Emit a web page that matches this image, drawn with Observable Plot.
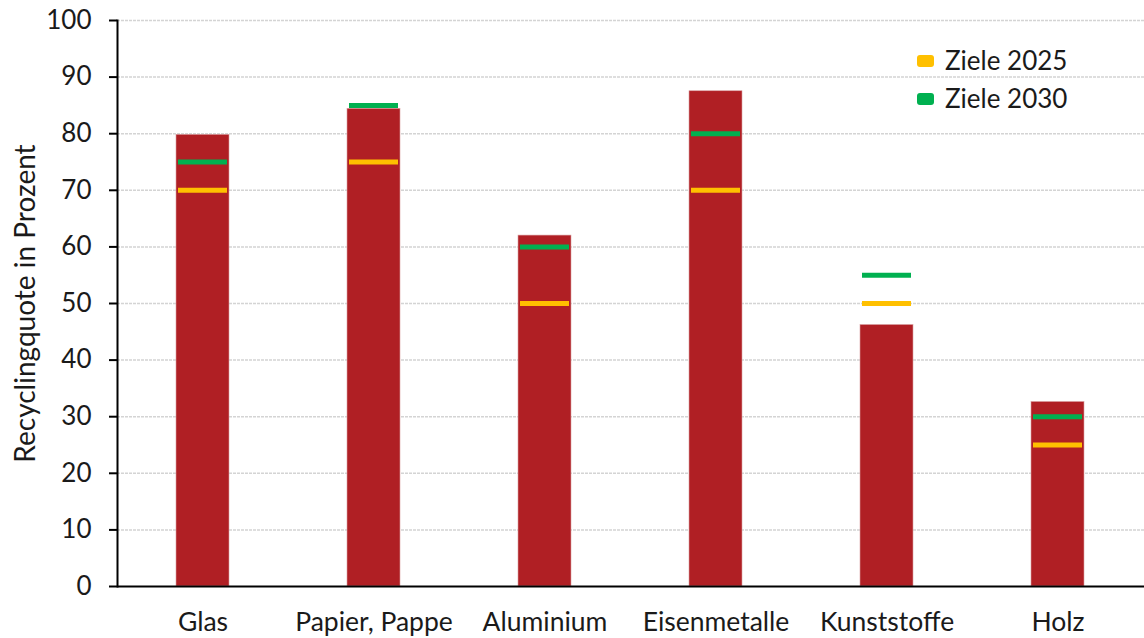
<!DOCTYPE html>
<html>
<head>
<meta charset="utf-8">
<script src="https://cdn.jsdelivr.net/npm/d3@7"></script>
<script src="https://cdn.jsdelivr.net/npm/@observablehq/plot@0.6"></script>
<style>
  html, body { margin: 0; padding: 0; background: #fff; }
  #wrap { position: relative; width: 1144px; height: 638px; font-family: Lato, "Noto Sans", sans-serif; }
  #legend { position: absolute; left: 917px; top: 41px; font-size: 26px; color: #1a1a1a; line-height: 38px; }
  #legend .sw { display: inline-block; width: 17px; height: 12px; border-radius: 3px; margin-right: 11px; vertical-align: 3px; }
</style>
</head>
<body>
<div id="wrap"><div id="chart"></div>
<div id="legend">
  <div><span class="sw" style="background:#FFC000"></span>Ziele 2025</div>
  <div><span class="sw" style="background:#00B050"></span>Ziele 2030</div>
</div>
</div>
<script>
const categories = ["Glas", "Papier, Pappe", "Aluminium", "Eisenmetalle", "Kunststoffe", "Holz"];
const quote = [79.8, 84.4, 62.0, 87.5, 46.2, 32.6];
const ziele2025 = [70, 75, 50, 70, 50, 25];
const ziele2030 = [75, 85, 60, 80, 55, 30];
const yTicks = [0, 10, 20, 30, 40, 50, 60, 70, 80, 90, 100];

const bars = categories.map((c, i) => ({cat: c, value: quote[i]}));
const t25 = categories.map((c, i) => ({cat: c, value: ziele2025[i]}));
const t30 = categories.map((c, i) => ({cat: c, value: ziele2030[i]}));

const chart = Plot.plot({
  width: 1144,
  height: 638,
  marginLeft: 117,
  marginRight: 0,
  marginTop: 20,
  marginBottom: 52,
  style: {fontFamily: "Lato, 'Noto Sans', sans-serif", color: "#1a1a1a", background: "#fff"},
  x: {domain: categories, paddingInner: 0.69, paddingOuter: 0.345, label: null},
  y: {domain: [0, 100], label: null},
  marks: [
    Plot.gridY(yTicks.slice(1), {stroke: "#d4d4d4", strokeOpacity: 1, strokeWidth: 1.5, strokeDasharray: "3,1"}),
    Plot.barY(bars, {x: "cat", y: "value", fill: "#B01F24", stroke: "#d9a0a2", strokeWidth: 0.6}),
    Plot.tickY(t25, {x: "cat", y: "value", stroke: "#FFC000", strokeWidth: 5, inset: 2}),
    Plot.tickY(t30, {x: "cat", y: "value", stroke: "#00B050", strokeWidth: 5, inset: 2}),
    Plot.axisY(yTicks, {tickSize: 8, tickPadding: 18, fontSize: 26, stroke: "#000", strokeWidth: 2, label: null}),
    Plot.axisY([], {tickSize: 0, fontSize: 28, label: "Recyclingquote in Prozent",
      labelAnchor: "center", labelOffset: 102, labelArrow: false}),
    Plot.axisX({tickSize: 0, tickPadding: 26, fontSize: 26.5}),
    Plot.frame({anchor: "left", stroke: "#000", strokeWidth: 2}),
    Plot.ruleY([0], {stroke: "#000", strokeWidth: 2})
  ]
});
document.getElementById("chart").appendChild(chart);
</script>
</body>
</html>
